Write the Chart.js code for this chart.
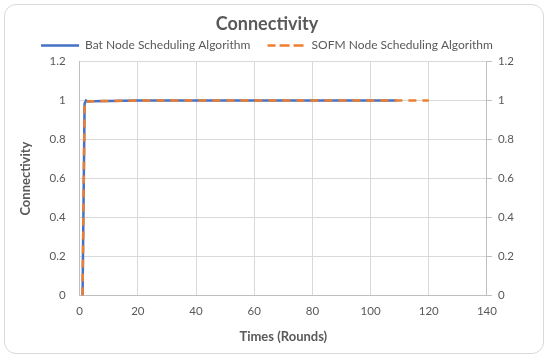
<!DOCTYPE html>
<html>
<head>
<meta charset="utf-8">
<script src="https://cdn.jsdelivr.net/npm/chart.js@4"></script>
<style>
  body { margin: 0; background: #fff; }
  #frame {
    position: absolute; left: 4px; top: 4px; width: 540px; height: 350px;
    border: 1px solid #d9d9d9; border-radius: 12px; box-sizing: border-box;
  }
  #wrap { position: absolute; left: 0; top: 0; width: 550px; height: 360px; }
</style>
</head>
<body>
<div id="frame"></div>
<div id="wrap"><canvas id="chart" width="550" height="360"></canvas></div>
<script>
// rounds (x) and connectivity (y)
const batRounds = [1, 1.7, 2.2, 2.8, 4, 10, 20, 40, 60, 80, 100, 109];
const batValues = [0, 0.985, 1.0, 0.995, 0.997, 0.998, 1.0, 1.0, 1.0, 1.0, 1.0, 1.0];
const sofmRounds = [1, 1.7, 2.2, 2.8, 4, 10, 20, 40, 60, 80, 100, 120];
const sofmValues = [0, 0.985, 1.0, 0.995, 0.997, 0.998, 1.0, 1.0, 1.0, 1.0, 1.0, 1.0];
const yTicks = [0, 0.2, 0.4, 0.6, 0.8, 1, 1.2];

const toPoints = (xs, ys) => xs.map((x, i) => ({ x: x, y: ys[i] }));
const font = "Lato, 'Open Sans', sans-serif";
const textColor = '#595959';
const tickFmt = v => String(Math.round(v * 10) / 10);

new Chart(document.getElementById('chart'), {
    type: 'scatter',
    data: {
        datasets: [
            { label: 'Bat Node Scheduling Algorithm', data: toPoints(batRounds, batValues), showLine: true, order: 1,
              borderColor: '#4472C4', backgroundColor: '#4472C4', borderWidth: 2.5, pointRadius: 0, tension: 0 },
            { label: 'SOFM Node Scheduling Algorithm', data: toPoints(sofmRounds, sofmValues), showLine: true, order: 0,
              borderColor: '#ED7D31', backgroundColor: '#ED7D31', borderWidth: 2.5, borderDash: [8, 6], pointRadius: 0, tension: 0 }
        ]
    },
    options: {
        responsive: false,
        animation: false,
        layout: { padding: { left: 14, right: 30, top: 9, bottom: 11 } },
        plugins: {
            title: { display: true, text: 'Connectivity', color: textColor, font: { family: font, size: 18, weight: 'bold' }, padding: { top: 4, bottom: 0 } },
            legend: {
                position: 'top',
                labels: {
                    color: textColor, font: { family: font, size: 12 }, boxWidth: 38, boxHeight: 0, padding: 5,
                    generateLabels: chart => chart.data.datasets.map((ds, i) => ({
                        text: i === 0 ? ds.label + '    ' : ds.label, fillStyle: 'transparent', strokeStyle: ds.borderColor,
                        lineWidth: 2.5, lineDash: ds.borderDash || [], fontColor: textColor,
                        hidden: false, datasetIndex: i
                    }))
                }
            },
            tooltip: { enabled: false }
        },
        scales: {
            x: {
                type: 'linear', min: 0, max: 140,
                ticks: { stepSize: 20, color: textColor, font: { family: font, size: 11.5 }, padding: 9 },
                grid: { color: '#d9d9d9', drawTicks: false },
                border: { color: '#bfbfbf' },
                title: { display: true, text: 'Times (Rounds)', color: textColor, font: { family: font, size: 13, weight: 'bold' }, padding: { top: 2 } }
            },
            y: {
                min: 0, max: 1.2,
                afterBuildTicks: axis => { axis.ticks = yTicks.map(v => ({ value: v })); },
                ticks: { color: textColor, font: { family: font, size: 11.5 }, padding: 14, callback: tickFmt },
                grid: { color: '#d9d9d9', drawTicks: false },
                border: { color: '#bfbfbf' },
                title: { display: true, text: 'Connectivity', color: textColor, font: { family: font, size: 13, weight: 'bold' }, padding: { bottom: 2 } }
            },
            y2: {
                position: 'right', min: 0, max: 1.2,
                afterBuildTicks: axis => { axis.ticks = yTicks.map(v => ({ value: v })); },
                ticks: { color: textColor, font: { family: font, size: 11.5 }, padding: 6, callback: tickFmt },
                grid: { display: true, drawOnChartArea: false, color: '#bfbfbf', tickLength: 5 },
                border: { color: '#bfbfbf' }
            }
        }
    }
});
</script>
</body>
</html>
